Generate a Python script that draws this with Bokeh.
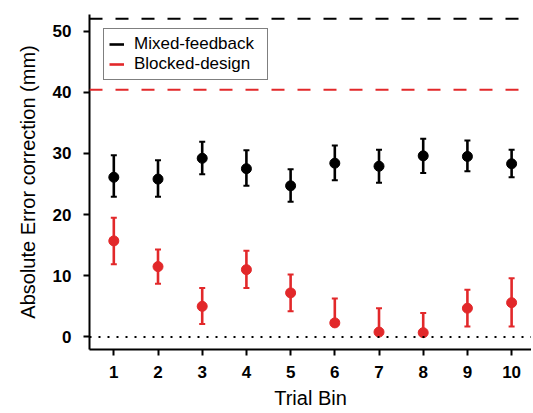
from bokeh.plotting import figure
from bokeh.models import Span, Legend, LegendItem, Range1d, FixedTicker, ColumnDataSource
from bokeh.embed import file_html
from bokeh.resources import INLINE

# ---- data ----
trial_bins = [1, 2, 3, 4, 5, 6, 7, 8, 9, 10]

mixed_mean = [26.1, 25.8, 29.2, 27.5, 24.7, 28.4, 27.9, 29.6, 29.5, 28.3]
mixed_upper = [29.7, 28.9, 31.9, 30.5, 27.4, 31.3, 30.6, 32.4, 32.1, 30.6]
mixed_lower = [22.9, 22.9, 26.6, 24.7, 22.1, 25.6, 25.2, 26.8, 27.1, 26.1]

blocked_mean = [15.7, 11.5, 5.0, 11.0, 7.2, 2.3, 0.8, 0.7, 4.7, 5.6]
blocked_upper = [19.5, 14.3, 8.0, 14.1, 10.2, 6.3, 4.7, 3.9, 7.7, 9.6]
blocked_lower = [11.9, 8.7, 2.1, 8.0, 4.2, 2.3, 0.8, 0.7, 1.7, 1.7]

mixed_baseline = 52.0
blocked_baseline = 40.4
zero_line = 0.0

y_ticks = [0, 10, 20, 30, 40, 50]
x_label = "Trial Bin"
y_label = "Absolute Error correction (mm)"
series_labels = ["Mixed-feedback", "Blocked-design"]

BLACK = "#000000"
RED = "#e2282a"
FONT = "Liberation Sans"

p = figure(width=531, height=411, output_backend="svg", toolbar_location=None,
           x_range=Range1d(0.45, 10.45), y_range=Range1d(-2.05, 52.7),
           min_border_left=89, min_border_right=0, min_border_top=14, min_border_bottom=57)
p.outline_line_color = None
p.xgrid.visible = False
p.ygrid.visible = False
p.background_fill_color = "white"
p.border_fill_color = "white"

# reference lines
p.add_layout(Span(location=mixed_baseline, dimension="width", line_color=BLACK,
                  line_width=2, line_dash="13 13"))
p.add_layout(Span(location=blocked_baseline, dimension="width", line_color=RED,
                  line_width=2, line_dash="13 13"))
p.add_layout(Span(location=zero_line, dimension="width", line_color=BLACK,
                  line_width=2, line_dash="2 7"))

items = []
for mean, up, lo, col, lab in [(mixed_mean, mixed_upper, mixed_lower, BLACK, series_labels[0]),
                               (blocked_mean, blocked_upper, blocked_lower, RED, series_labels[1])]:
    src = ColumnDataSource(dict(x=trial_bins, m=mean, up=up, lo=lo))
    seg = p.segment(x0="x", y0="lo", x1="x", y1="up", source=src, line_color=col, line_width=2.6)
    p.scatter(x="x", y="up", source=src, marker="dash", size=6, line_color=col, line_width=2)
    p.scatter(x="x", y="lo", source=src, marker="dash", size=6, line_color=col, line_width=2)
    p.scatter(x="x", y="m", source=src, marker="circle", size=10, fill_color=col, line_color=col)
    items.append(LegendItem(label=lab, renderers=[seg]))

legend = Legend(items=items, location=(14, 269), padding=5, spacing=0,
                label_height=18, glyph_height=18, glyph_width=15, label_standoff=10,
                label_width=128,
                label_text_font=FONT, label_text_font_size="17px", label_text_color="black",
                border_line_color="black", border_line_width=1.5,
                background_fill_color="white", background_fill_alpha=1.0)
p.add_layout(legend)

for ax in (p.xaxis[0], p.yaxis[0]):
    ax.axis_line_width = 2
    ax.axis_line_color = "black"
    ax.major_tick_line_width = 2
    ax.major_tick_line_color = "black"
    ax.major_tick_out = 6
    ax.major_tick_in = 0
    ax.minor_tick_line_color = None
    ax.major_label_text_font = FONT
    ax.major_label_text_font_style = "bold"
    ax.major_label_text_font_size = "17px"
    ax.major_label_text_color = "black"
    ax.axis_label_text_font = FONT
    ax.axis_label_text_font_style = "normal"
    ax.axis_label_text_font_size = "20px"
    ax.axis_label_text_color = "black"

p.xaxis.ticker = FixedTicker(ticks=trial_bins)
p.yaxis.ticker = FixedTicker(ticks=y_ticks)
p.xaxis.axis_label = x_label
p.yaxis.axis_label = y_label
p.xaxis.major_label_standoff = 10
p.xaxis.axis_label_standoff = 6
p.yaxis.major_label_standoff = 12
p.yaxis.axis_label_standoff = 11

open("out.html", "w").write(file_html(p, INLINE))
